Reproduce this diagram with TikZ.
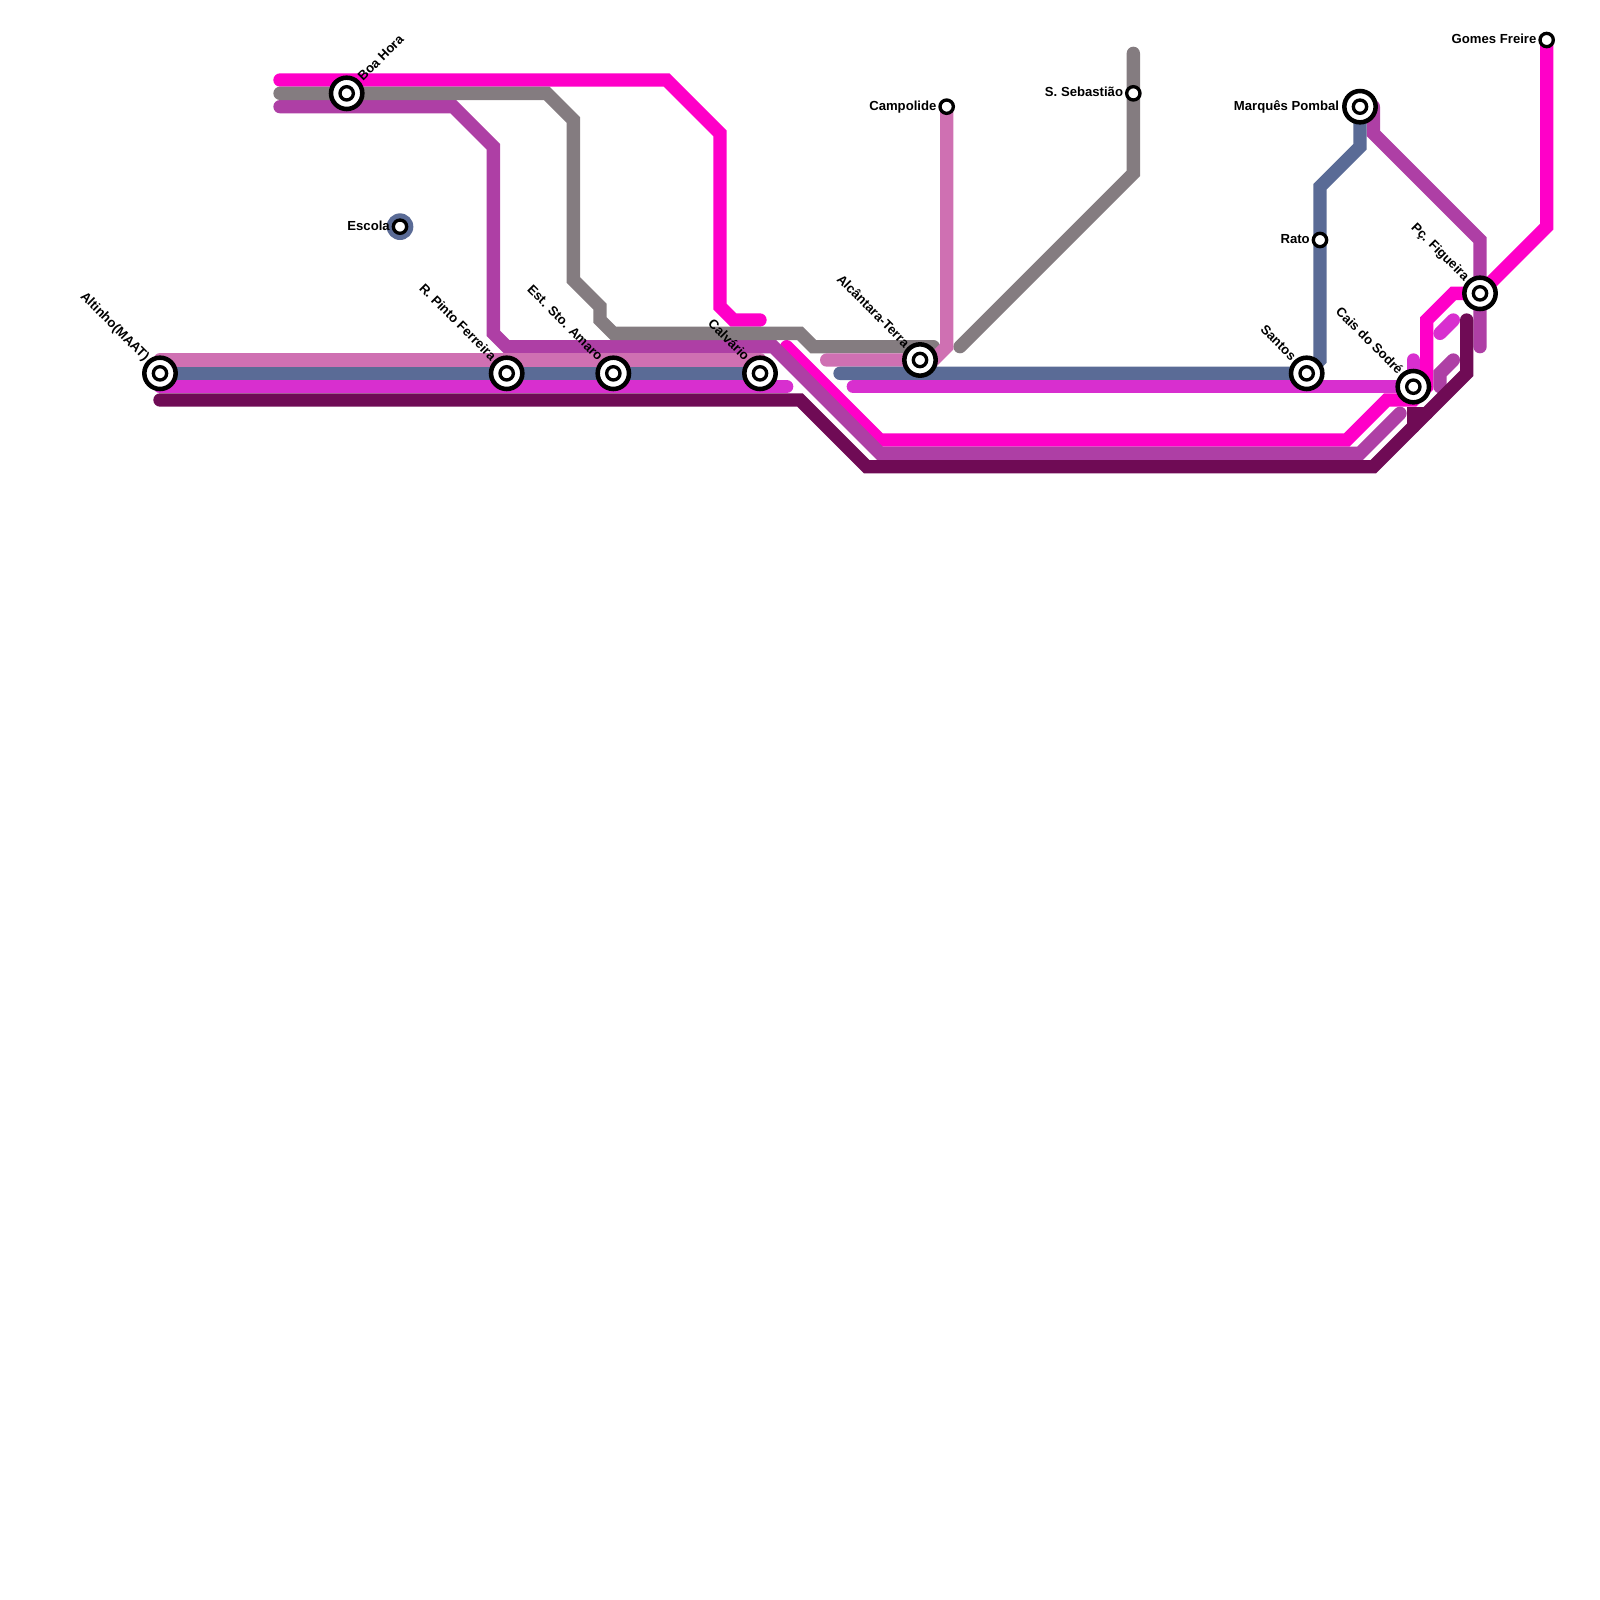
\documentclass[tikz,border=0pt]{standalone}
\usepackage{fontspec}
\setmainfont{Liberation Sans}
\usetikzlibrary{positioning}
\definecolor{magentalinha}{RGB}{255,0,200}
\definecolor{roxolinha}{RGB}{174,63,165}
\definecolor{cinzalinha}{RGB}{132,124,128}
\definecolor{rosalinha}{RGB}{207,112,178}
\definecolor{azullinha}{RGB}{90,107,150}
\definecolor{lilaslinha}{RGB}{216,47,207}
\definecolor{vinholinha}{RGB}{111,11,85}

\begin{document}
\begin{tikzpicture}[x=10pt, y=-10pt, font=\bfseries\fontsize{9.85}{12}\selectfont,
        linha/.style={line width=10pt, line cap=round, line join=miter},
        estgrande/.style={circle, draw=black, fill=white, line width=3.4pt, minimum size=23.5pt, inner sep=0pt},
        estpequena/.style={circle, draw=black, fill=white, line width=2.5pt, minimum size=10pt, inner sep=0pt},
        estazul/.style={circle, fill=azullinha, minimum size=20pt, inner sep=0pt},
        nome/.style={inner sep=0pt, text height=7pt, text depth=2pt},
        nomeoeste/.style={nome, anchor=east, xshift=-7.5pt},
        nomegrande/.style={nome, anchor=east, xshift=-15.5pt},
        nomeno/.style={nome, anchor=east, xshift=-10pt, yshift=10.5pt, rotate=-45},
        nomene/.style={nome, anchor=west, xshift=10.5pt, yshift=10.5pt, rotate=45}
    ]
        \useasboundingbox (0,0) rectangle (120,120);
        \coordinate (altinho) at (12,28);
        \coordinate (boahora) at (26,7);
        \coordinate (escola) at (30,17);
        \coordinate (pinto) at (38,28);
        \coordinate (amaro) at (46,28);
        \coordinate (calvario) at (57,28);
        \coordinate (alcantara) at (69,27);
        \coordinate (campolide) at (71,8);
        \coordinate (sebastiao) at (85,7);
        \coordinate (santos) at (98,28);
        \coordinate (rato) at (99,18);
        \coordinate (pombal) at (102,8);
        \coordinate (cais) at (106,29);
        \coordinate (figueira) at (111,22);
        \coordinate (gomes) at (116,3);

        % linhas
        \draw[linha, magentalinha] (21,6) -- (50,6) -- (54,10) -- (54,23) -- (55,24) -- (57,24);
        \draw[linha, magentalinha] (59,26) -- (66,33) -- (101,33) -- (104,30) -- (106,30) -- (107,29)
            -- (107,24) -- (109,22) -- (figueira) -- (116,17) -- (gomes);
        \draw[linha, roxolinha] (21,8) -- (34,8) -- (37,11) -- (37,25) -- (38,26) -- (58,26) -- (66,34)
            -- (102,34) -- (105,31);
        \draw[linha, roxolinha] (108,29) -- (108,28) -- (109,27);
        \draw[linha, roxolinha] (103,8) -- (103,10) -- (111,18) -- (111,26);
        \draw[linha, cinzalinha] (21,7) -- (41,7) -- (43,9) -- (43,21) -- (45,23) -- (45,24) -- (46,25)
            -- (60,25) -- (61,26) -- (70,26);
        \draw[linha, cinzalinha] (72,26) -- (85,13) -- (85,4);
        \draw[linha, rosalinha] (altinho) ++(0,-1) -- (57,27);
        \draw[linha, rosalinha] (62,27) -- (70,27) -- (71,26) -- (campolide);
        \draw[linha, azullinha] (altinho) -- (calvario);
        \draw[linha, azullinha] (63,28) -- (santos) -- (99,27) -- (99,14) -- (102,11) -- (pombal);
        \draw[linha, lilaslinha] (12,29) -- (59,29);
        \draw[linha, lilaslinha] (64,29) -- (cais) -- (106,27);
        \draw[linha, lilaslinha] (108,25) -- (109,24);
        \draw[linha, vinholinha] (12,30) -- (60,30) -- (65,35) -- (103,35) -- (110,28) -- (110,24);
        \draw[linha, vinholinha] (106,32) -- (106,31) -- (107,31);

        % estacoes
        \node[estazul] (fundoescola) at (escola) {};
        \foreach \n in {altinho,boahora,pinto,amaro,calvario,alcantara,santos,pombal,cais,figueira}
            \node[estgrande] (g\n) at (\n) {};
        \foreach \n in {altinho,boahora,escola,pinto,amaro,calvario,alcantara,campolide,sebastiao,santos,rato,pombal,cais,figueira,gomes}
            \node[estpequena] (p\n) at (\n) {};

        % nomes
        \node[nomeno] (nomealtinho) at (altinho) {Altinho(MAAT)};
        \node[nomene] (nomeboahora) at (boahora) {Boa Hora};
        \node[nomeoeste] (nomeescola) at (escola) {Escola};
        \node[nomeno] (nomepinto) at (pinto) {R. Pinto Ferreira};
        \node[nomeno] (nomeamaro) at (amaro) {Est. Sto. Amaro};
        \node[nomeno] (nomecalvario) at (calvario) {Calvário};
        \node[nomeno] (nomealcantara) at (alcantara) {Alcântara-Terra};
        \node[nomeoeste] (nomecampolide) at (campolide) {Campolide};
        \node[nomeoeste] (nomesebastiao) at (sebastiao) {S. Sebastião};
        \node[nomeno] (nomesantos) at (santos) {Santos};
        \node[nomeoeste] (nomerato) at (rato) {Rato};
        \node[nomegrande] (nomepombal) at (pombal) {Marquês Pombal};
        \node[nomeno] (nomecais) at (cais) {Cais do Sodré};
        \node[nomeno] (nomefigueira) at (figueira) {Pç. Figueira};
        \node[nomeoeste] (nomegomes) at (gomes) {Gomes Freire};
\end{tikzpicture}
\end{document}
